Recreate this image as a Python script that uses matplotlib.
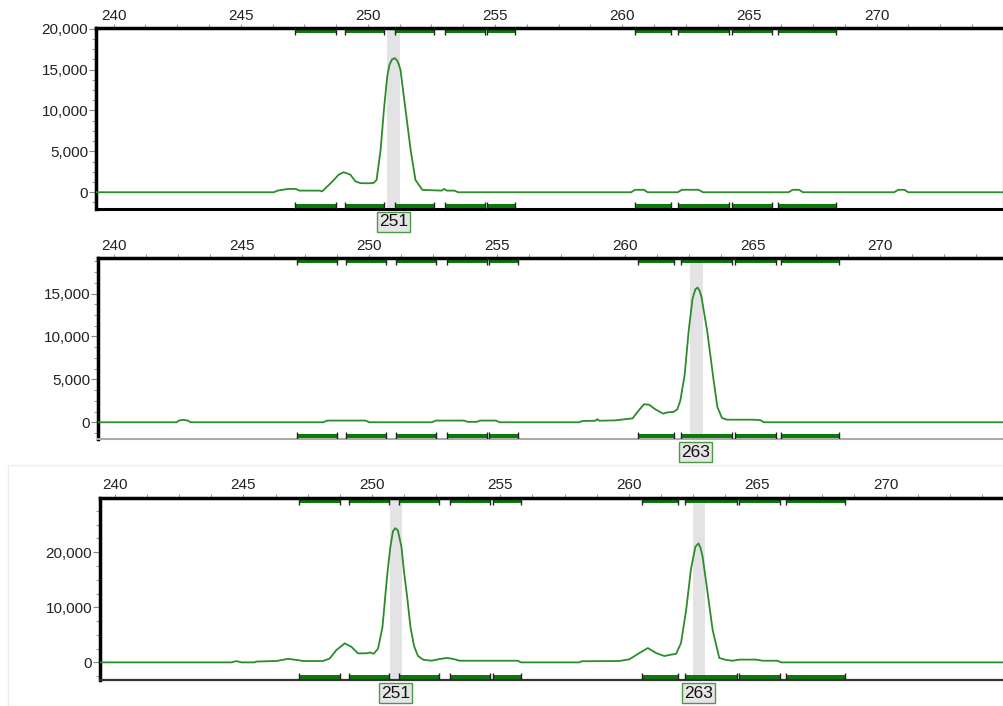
import matplotlib
matplotlib.use("Agg")
import matplotlib.pyplot as plt
from matplotlib.patches import Rectangle
from matplotlib.ticker import MultipleLocator, FuncFormatter
from matplotlib.transforms import blended_transform_factory

plt.rcParams['font.family'] = ['Liberation Sans', 'DejaVu Sans']

# bins (start, end) shown as green bars at top and bottom of each panel
bin_start = [247.15, 249.1, 251.05, 253.05, 254.7, 260.5, 262.2, 264.3, 266.12]
bin_end = [248.75, 250.65, 252.6, 254.6, 255.8, 261.93, 264.2, 265.9, 268.4]

# panel 1 trace
x1 = [239.3, 246.3, 246.45, 246.85, 247.0, 247.17, 247.3, 248.1, 248.2, 248.33, 248.5,
      248.66, 248.85, 249.05, 249.31, 249.51, 249.7, 249.84, 250.1, 250.23, 250.34, 250.5,
      250.63, 250.76, 250.85, 250.95, 251.06, 251.15, 251.22, 251.28, 251.48, 251.68,
      251.87, 252.14, 252.9, 253.0, 253.1, 253.4, 253.55, 260.35, 260.5, 260.85, 261.0,
      262.18, 262.35, 263.0, 263.17, 266.54, 266.7, 266.95, 267.1, 270.69, 270.85, 271.1,
      271.24, 275.1]
y1 = [0, 0, 200, 400, 400, 400, 200, 200, 100, 490, 1000,
      1500, 2150, 2450, 2150, 1330, 1120, 1100, 1100, 1150, 1500, 5180,
      10080, 14160, 15600, 16250, 16400, 16100, 15600, 14980, 10080, 5180,
      1500, 290, 200, 400, 200, 200, 0, 0, 300, 300, 0,
      0, 300, 300, 0, 0, 300, 300, 0, 0, 300, 300,
      0, 0]

# panel 2 trace
x2 = [239.3, 242.45, 242.55, 242.7, 242.9, 243.0, 248.2, 248.35, 249.85, 250.0, 252.45,
      252.6, 253.7, 253.85, 254.2, 254.35, 254.95, 255.1, 258.2, 258.35, 258.85, 258.92,
      259.0, 259.6, 259.85, 260.3, 260.55, 260.75, 260.95, 261.2, 261.5, 261.65, 261.9,
      262.05, 262.17, 262.34, 262.5, 262.65, 262.76, 262.85, 262.93, 263.0, 263.22, 263.47,
      263.62, 263.8, 264.0, 264.2, 265.0, 265.3, 265.45, 275.1]
y2 = [0, 0, 200, 280, 200, 0, 0, 200, 200, 0, 0,
      200, 200, 50, 50, 200, 200, 0, 0, 150, 180, 350,
      180, 220, 300, 450, 1400, 2100, 2050, 1500, 1000, 1150, 1200,
      1500, 2500, 5500, 10700, 14400, 15500, 15700, 15300, 14600, 10700, 5000,
      1800, 500, 300, 300, 300, 250, 0, 0]

# panel 3 trace
x3 = [239.3, 244.54, 244.73, 244.93, 245.44, 245.5, 246.29, 246.74, 247.13, 247.32, 248.1,
      248.36, 248.62, 248.94, 249.2, 249.46, 249.79, 249.94, 250.07, 250.24, 250.41, 250.6,
      250.72, 250.82, 250.91, 251.01, 251.15, 251.25, 251.37, 251.5, 251.64, 251.79, 251.99,
      252.31, 252.64, 252.9, 253.15, 253.41, 255.68, 255.8, 258.08, 258.15, 259.63, 260.02,
      260.41, 260.74, 261.06, 261.38, 261.64, 261.84, 262.03, 262.23, 262.42, 262.59, 262.71,
      262.79, 262.87, 263.07, 263.26, 263.52, 263.78, 264.04, 264.3, 264.95, 265.21, 265.79,
      265.92, 275.1]
y3 = [0, 0, 240, 0, 0, 150, 250, 650, 400, 250, 250,
      700, 2240, 3450, 2840, 1640, 1640, 1800, 1550, 2500, 6300, 16000,
      21000, 23800, 24360, 24000, 21000, 16500, 12000, 6500, 3000, 1200, 500,
      300, 600, 800, 650, 300, 300, 0, 0, 200, 250, 550,
      1700, 2600, 1700, 1150, 1400, 1550, 3500, 9500, 17000, 21000, 21600,
      20800, 19200, 12500, 5900, 800, 450, 300, 500, 500, 300, 300,
      0, 0]

panels = [
    dict(x=x1, y=y1, rect=(96, 28.3, 1003, 209), xlim=(239.31, 274.97), ylim=(-2050, 20050),
         major=5000, minor=1250, spans=[(250.76, 251.28)], labels=[(251.0, '251')],
         bottom=('black', 2.2), right=True),
    dict(x=x2, y=y2, rect=(98, 258.3, 1004, 439), xlim=(239.38, 274.84), ylim=(-1950, 19110),
         major=5000, minor=1250, spans=[(262.56, 263.04)], labels=[(262.78, '263')],
         bottom=('#aaaaaa', 1.5), right=False),
    dict(x=x3, y=y3, rect=(100, 497.7, 1004, 680), xlim=(239.42, 274.6), ylim=(-3200, 29900),
         major=10000, minor=2500, spans=[(250.69, 251.18), (262.49, 262.98)],
         labels=[(250.92, '251'), (262.72, '263')],
         bottom=('#333333', 1.6), right=False),
]

W, H = 1004, 706
fig = plt.figure(figsize=(W / 100, H / 100), dpi=100)

# faint frame around the third screenshot
fig.patches.append(Rectangle((8 / W, 0), 1, 1 - 465 / H, transform=fig.transFigure,
                             fill=False, ec='#ececec', lw=1))

bar_green = '#0b7a0b'
line_green = '#2b8c2b'

for p in panels:
    l, t, r, b = p['rect']
    ax = fig.add_axes([l / W, 1 - b / H, (r - l) / W, (b - t) / H])
    ax.set_xlim(*p['xlim'])
    ax.set_ylim(*p['ylim'])
    ax_h = b - t
    trans = blended_transform_factory(ax.transData, ax.transAxes)

    for s0, s1 in p['spans']:
        ax.axvspan(s0, s1, color='#e3e3e6', zorder=0, lw=0)

    bh = 5 / ax_h
    tk = 7 / ax_h
    for s, e in zip(bin_start, bin_end):
        for y0 in (1 - bh, 0):
            ax.add_patch(Rectangle((s, y0), e - s, bh, transform=trans, color=bar_green,
                                   lw=0, zorder=2))
        ax.vlines([s, e], 1 - tk, 1, transform=trans, color='#222222', lw=1, zorder=3)
        ax.vlines([s, e], 0, tk, transform=trans, color='#222222', lw=1, zorder=3)

    ax.plot(p['x'], p['y'], color=line_green, lw=1.3, zorder=4)

    for xl, txt in p['labels']:
        ax.annotate(txt, xy=(xl, 0), xycoords=trans, xytext=(0, -13),
                    textcoords='offset pixels', ha='center', va='center', fontsize=12.5,
                    color='#111111', annotation_clip=False,
                    bbox=dict(boxstyle='square,pad=0.12', fc='#e6e6e6', ec='#4a9a4a', lw=1))

    for side in ('left', 'top'):
        ax.spines[side].set_linewidth(2.5)
        ax.spines[side].set_color('black')
    ax.spines['bottom'].set_color(p['bottom'][0])
    ax.spines['bottom'].set_linewidth(p['bottom'][1])
    if p['right']:
        ax.spines['right'].set_color('#b0b0b0')
        ax.spines['right'].set_linewidth(1)
    else:
        ax.spines['right'].set_visible(False)

    ax.xaxis.set_major_locator(MultipleLocator(5))
    ax.xaxis.set_minor_locator(MultipleLocator(1.25))
    ax.tick_params(axis='x', which='both', top=True, bottom=False, labeltop=True,
                   labelbottom=False, direction='out', color='#999999', length=3,
                   width=0.8, pad=1, labelsize=11, labelcolor='#222222')

    ax.yaxis.set_major_locator(MultipleLocator(p['major']))
    ax.yaxis.set_minor_locator(MultipleLocator(p['minor']))
    ax.yaxis.set_major_formatter(FuncFormatter(lambda v, pos: f'{int(v):,}'))
    ax.tick_params(axis='y', which='major', direction='out', color='#888888', length=5,
                   width=0.8, pad=0.5, labelsize=11, labelcolor='#222222')
    ax.tick_params(axis='y', which='minor', direction='out', color='#999999', length=3,
                   width=0.8)

fig.savefig('out.png', dpi=100)
